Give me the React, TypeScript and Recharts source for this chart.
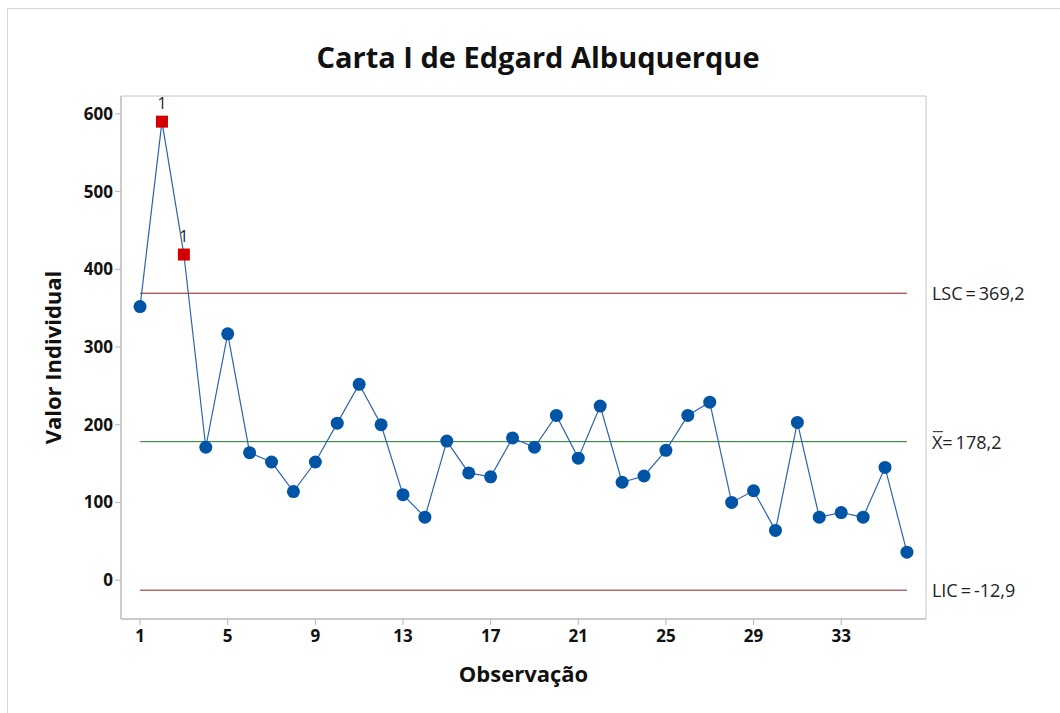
import React from 'react';
import {
  LineChart,
  Line,
  XAxis,
  YAxis,
  ReferenceLine,
  ReferenceArea,
} from 'recharts';

// observações (valores individuais)
const observacoes = [
  1, 2, 3, 4, 5, 6, 7, 8, 9, 10, 11, 12, 13, 14, 15, 16, 17, 18,
  19, 20, 21, 22, 23, 24, 25, 26, 27, 28, 29, 30, 31, 32, 33, 34, 35, 36,
];
const valores = [
  352, 590, 419, 171, 317, 164, 152, 114, 152, 202, 252, 200, 110, 81, 179, 138, 133, 183,
  171, 212, 157, 224, 126, 134, 167, 212, 229, 100, 115, 64, 203, 81, 87, 81, 145, 36,
];
const foraDeControle = [2, 3];

const LSC = 369.2;
const media = 178.2;
const LIC = -12.9;

const xTicks = [1, 5, 9, 13, 17, 21, 25, 29, 33];
const yTicks = [0, 100, 200, 300, 400, 500, 600];

const data = observacoes.map((obs, i) => ({
  obs,
  valor: valores[i],
  fora: foraDeControle.includes(obs),
}));

const FONT = '"Open Sans", "Noto Sans", sans-serif';
const BLUE = '#0054a6';
const RED = '#d40000';

if (typeof document !== 'undefined') document.body.style.margin = '0';

function Ponto(props: any) {
  const { cx, cy, payload } = props;
  if (cx == null || cy == null) return null;
  if (payload.fora) {
    return (
      <g>
        <rect x={cx - 6} y={cy - 6} width={12} height={12} fill={RED} />
        <text x={cx} y={cy - 13} textAnchor="middle" fontSize={16} fontFamily={FONT} fill="#222">
          1
        </text>
      </g>
    );
  }
  return <circle cx={cx} cy={cy} r={6.5} fill={BLUE} />;
}

function rotuloLinha(texto: string, barra = false) {
  return (props: any) => {
    const vb = props.viewBox || {};
    const x = vb.x + vb.width + 25;
    const y = vb.y + 7;
    return (
      <g>
        {barra && <line x1={x + 1} x2={x + 11} y1={y - 17} y2={y - 17} stroke="#222" strokeWidth={1} />}
        <text x={x} y={y} fontSize={18} fontFamily={FONT} fill="#222">
          {texto}
        </text>
      </g>
    );
  };
}

export default function App() {
  return (
    <div style={{ position: 'relative', width: 1060, height: 713, background: '#fff', fontFamily: FONT }}>
      <div
        style={{
          position: 'absolute',
          left: 7,
          top: 8,
          right: 0,
          bottom: 0,
          borderLeft: '1px solid #d6d6d6',
          borderTop: '1px solid #d6d6d6',
        }}
      />
      <div
        style={{
          position: 'absolute',
          left: 8,
          width: 1060,
          top: 37,
          textAlign: 'center',
          fontSize: 29,
          fontWeight: 700,
          color: '#111',
        }}
      >
        Carta I de Edgard Albuquerque
      </div>
      <LineChart
        width={1060}
        height={713}
        data={data}
        margin={{ top: 96, right: 134, bottom: 54, left: 61 }}
        style={{ position: 'absolute', left: 0, top: 0 }}
      >
        <XAxis
          dataKey="obs"
          type="number"
          domain={[0.13, 36.87]}
          ticks={xTicks}
          allowDataOverflow
          height={40}
          stroke="#b5b5b5"
          tickSize={6}
          tick={{ fill: '#111', fontSize: 17, fontWeight: 700, fontFamily: FONT, dy: 3 }}
          label={(p: any) => {
            const vb = p.viewBox;
            return (
              <text
                x={vb.x + vb.width / 2}
                y={vb.y + 63}
                textAnchor="middle"
                fontSize={22}
                fontWeight={700}
                fontFamily={FONT}
                fill="#111"
              >
                Observação
              </text>
            );
          }}
        />
        <YAxis
          type="number"
          domain={[-50, 623]}
          ticks={yTicks}
          allowDataOverflow
          width={60}
          stroke="#b5b5b5"
          tickSize={6}
          tick={{ fill: '#111', fontSize: 17, fontWeight: 700, fontFamily: FONT }}
          label={(p: any) => {
            const vb = p.viewBox;
            const x = vb.x;
            const y = vb.y + vb.height / 2;
            return (
              <text
                x={x}
                y={y}
                transform={`rotate(-90 ${x} ${y})`}
                textAnchor="middle"
                fontSize={22}
                fontWeight={700}
                fontFamily={FONT}
                fill="#111"
              >
                Valor Individual
              </text>
            );
          }}
        />
        <ReferenceArea x1={0.13} x2={36.87} y1={-50} y2={623} fill="none" stroke="#c4c4c4" />
        <ReferenceLine
          segment={[{ x: 1, y: LSC }, { x: 36, y: LSC }]}
          stroke="#8c1c1c"
          label={rotuloLinha('LSC\u2009=\u2009369,2')}
        />
        <ReferenceLine
          segment={[{ x: 1, y: media }, { x: 36, y: media }]}
          stroke="#1d7a2a"
          label={rotuloLinha('X=\u2009178,2', true)}
        />
        <ReferenceLine
          segment={[{ x: 1, y: LIC }, { x: 36, y: LIC }]}
          stroke="#8c1c1c"
          label={rotuloLinha('LIC\u2009=\u2009-12,9')}
        />
        <Line
          dataKey="valor"
          stroke="#2a64b0"
          strokeWidth={1.2}
          dot={<Ponto />}
          activeDot={false}
          isAnimationActive={false}
        />
      </LineChart>
    </div>
  );
}
